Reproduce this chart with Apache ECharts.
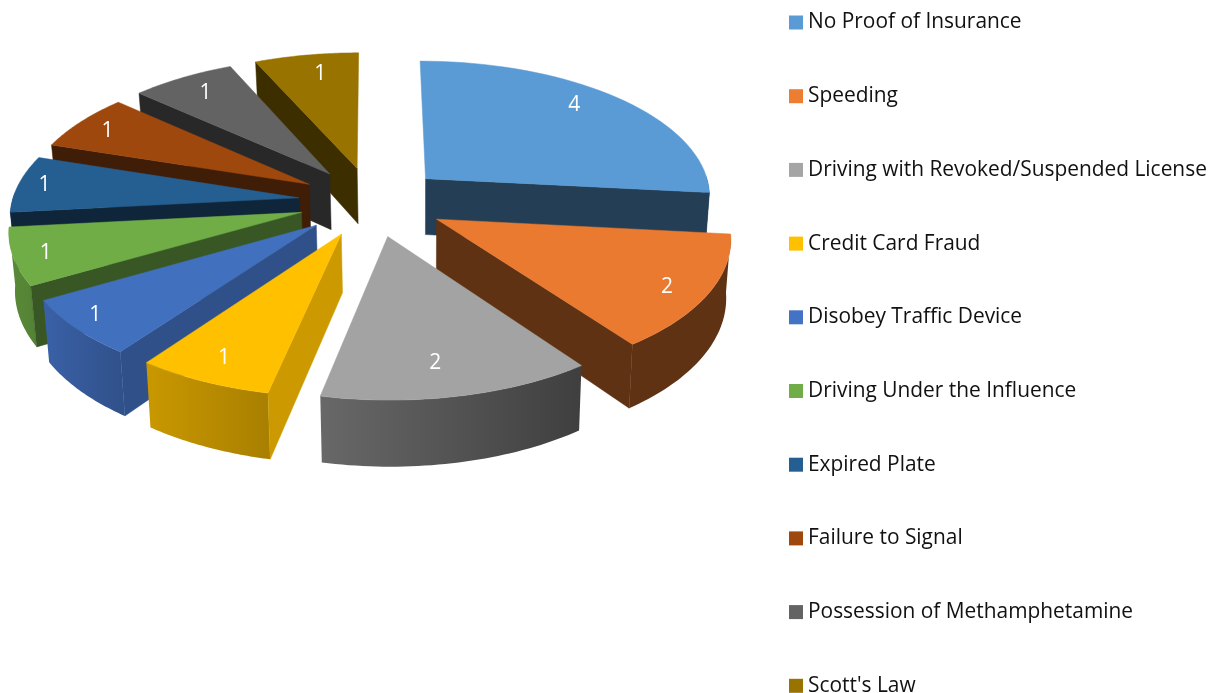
<!DOCTYPE html>
<html><head><meta charset="utf-8">
<style>html,body{margin:0;padding:0;background:#fff}#c{width:1215px;height:693px}</style>
<script src="https://cdn.jsdelivr.net/npm/echarts@6/dist/echarts.min.js"></script>
</head><body><div id="c"></div>
<script>
const categories = ["No Proof of Insurance","Speeding","Driving with Revoked/Suspended License","Credit Card Fraud","Disobey Traffic Device","Driving Under the Influence","Expired Plate","Failure to Signal","Possession of Methamphetamine","Scott's Law"];
const values = [4,2,2,1,1,1,1,1,1,1];
const colors = ["#5B9BD5","#ED7D31","#A5A5A5","#FFC000","#4472C4","#70AD47","#255E91","#9E480E","#636363","#997300"];
const topColors = ["#5B9BD5","#E97A30","#A3A3A3","#FFC000","#4170BF","#70AD47","#255E91","#9E480E","#636363","#997300"];
const wallShade = [.4,.4,.4,.8,.7,.5,.4,.4,.4,.4];
const sideShadeA = [.4,.4,.63,.79,.85,.8,.6,.6,.6,.6];
const sideShadeB = [.4,.4,.38,.66,.7,.75,.6,.6,.6,.6];
const labelRadius = [.835,.868,.805,.856,.908,.893,.907,.87,.83,.812];
const labelFrac = [.456,.54,.54,.51,.56,.47,.5,.47,.5,.56];

const total = values.reduce((a,b)=>a+b,0);
const starts = values.map((_,i)=>values.slice(0,i).reduce((a,b)=>a+b,0)/total*2*Math.PI);
const CX=372, CY=201.5, A=287, B=136, K=.115, E=.256, DEPTH=57, VX=420, CONV=.985;

function shade(hex,f){
  const n=parseInt(hex.slice(1),16);
  return 'rgb('+[(n>>16)&255,(n>>8)&255,n&255].map(c=>Math.round(c*f)).join(',')+')';
}
function proj(u,v){const w=1-K*v;return [CX+A*u/w,CY+B*v/w,w];}
function drop(p){return [VX+(p[0]-VX)*CONV,p[1]+DEPTH/p[2]];}

function render(i){
  return function(params,api){
    const a0=starts[i], a1=a0+values[i]/total*2*Math.PI, m=(a0+a1)/2;
    const ox=E*Math.sin(m), oy=-E*Math.cos(m);
    const pt=(a,r)=>proj(ox+r*Math.sin(a),oy-r*Math.cos(a));
    const apex=pt(0,0);
    const arc=[];const front=[];const N=40;
    for(let k=0;k<=N;k++){
      const a=a0+(a1-a0)*k/N, p=pt(a,1);
      arc.push(p);
      if(Math.cos(a)<.05)front.push(p);
    }
    const xy=p=>[p[0],p[1]];
    const inner=pt(m,.6);
    const wc=shade(colors[i],wallShade[i]);
    const walls=[];
    [arc[0],arc[N]].forEach(q=>{
      const dx=q[0]-apex[0], dy=q[1]-apex[1];
      if(Math.abs(dx)<.1*Math.abs(dy))return;
      const yOnEdge=apex[1]+dy*(inner[0]-apex[0])/dx;
      if(inner[1]<yOnEdge){
        walls.push({type:'polygon',shape:{points:[xy(apex),xy(q),drop(q),drop(apex)]},style:{fill:wc,stroke:wc,lineWidth:.5}});
      }
    });
    const grad=new echarts.graphic.LinearGradient(0,0,1,0,[
      {offset:0,color:shade(colors[i],sideShadeA[i])},
      {offset:1,color:shade(colors[i],sideShadeB[i])}]);
    const lp=pt(a0+(a1-a0)*labelFrac[i],labelRadius[i]);
    const children=[];
    if(front.length>1){
      children.push({type:'polygon',shape:{points:front.map(xy).concat(front.slice().reverse().map(drop))},style:{fill:grad}});
    }
    children.push(...walls,
      {type:'polygon',shape:{points:[xy(apex)].concat(arc.map(xy))},style:{fill:topColors[i],stroke:topColors[i],lineWidth:.5}},
      {type:'text',style:{text:String(api.value(0)),x:lp[0],y:lp[1],fill:'#fff',font:'21px "Open Sans"',align:'center',verticalAlign:'middle'}});
    return {type:'group',children};
  };
}
const series=categories.map((name,i)=>{
  const m=starts[i]+values[i]/total*Math.PI;
  return {type:'custom',name,coordinateSystem:'none',data:[[values[i]]],renderItem:render(i),
    z:20-10*Math.cos(m),itemStyle:{color:colors[i]},animation:false,silent:true,clip:false};
});
const chart=echarts.init(document.getElementById('c'),null,{renderer:'canvas'});
chart.setOption({
  animation:false,backgroundColor:'#fff',
  legend:{orient:'vertical',left:789,top:12,height:1000,padding:0,itemWidth:14,itemHeight:14,itemGap:52.7,icon:'rect',
    data:categories,selectedMode:false,
    textStyle:{fontFamily:'"Open Sans"',fontSize:20.9,lineHeight:20,color:'#111'},formatter:n=>n},
  series
});
</script></body></html>
